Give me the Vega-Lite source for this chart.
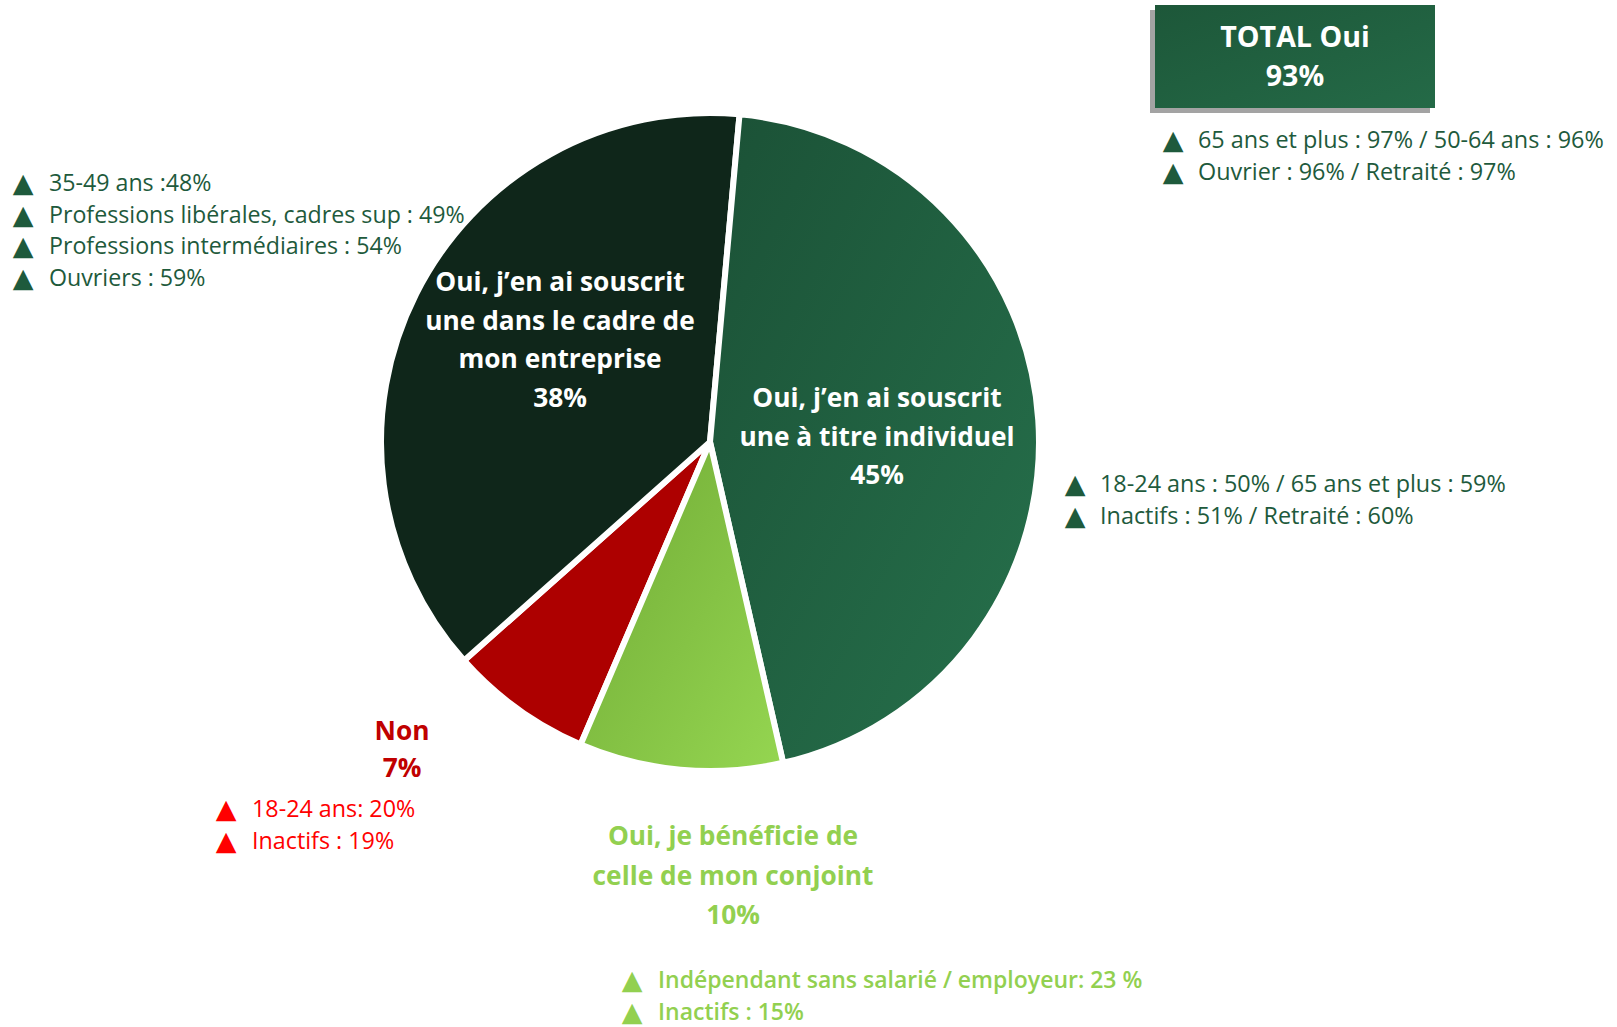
{
  "$schema": "https://vega.github.io/schema/vega-lite/v6.json",
  "width": 1420,
  "height": 884,
  "autosize": {"type": "none"},
  "padding": {"left": 0, "top": 0, "right": 197, "bottom": 143},
  "background": "white",
  "config": {"view": {"stroke": null}, "font": "Open Sans"},
  "data": {
    "values": [
      {"reponse": "Oui, j’en ai souscrit une à titre individuel", "pct": 45, "ordre": 1},
      {"reponse": "Oui, je bénéficie de celle de mon conjoint", "pct": 10, "ordre": 2},
      {"reponse": "Non", "pct": 7, "ordre": 3},
      {"reponse": "Oui, j’en ai souscrit une dans le cadre de mon entreprise", "pct": 38, "ordre": 4}
    ]
  },
  "layer": [
    {
      "mark": {"type": "arc", "outerRadius": 329, "stroke": "white", "strokeWidth": 6},
      "encoding": {
        "theta": {"field": "pct", "type": "quantitative", "stack": true, "scale": {"domain": [0, 100], "range": [0.09, 6.3732]}},
        "order": {"field": "ordre", "type": "quantitative"},
        "color": {
          "field": "reponse", "type": "nominal", "legend": null,
          "scale": {
            "domain": ["Oui, j’en ai souscrit une à titre individuel", "Oui, je bénéficie de celle de mon conjoint", "Non", "Oui, j’en ai souscrit une dans le cadre de mon entreprise"],
            "range": ["#215f40", "#82bf45", "#ad0000", "#0f261a"]
          }
        }
      }
    },
    {
      "transform": [
        {"stack": "pct", "groupby": [], "sort": [{"field": "ordre"}], "as": ["t0", "t1"]},
        {"filter": "datum.ordre == 1"}
      ],
      "mark": {"type": "arc", "outerRadius": 329, "stroke": "white", "strokeWidth": 6,
        "fill": {"gradient": "linear", "x1": 0, "y1": 0, "x2": 1, "y2": 1, "stops": [{"offset": 0, "color": "#1b5136"}, {"offset": 1, "color": "#26714c"}]}},
      "encoding": {
        "theta": {"field": "t0", "type": "quantitative", "scale": {"domain": [0, 100], "range": [0.09, 6.3732]}},
        "theta2": {"field": "t1"}
      }
    },
    {
      "transform": [
        {"stack": "pct", "groupby": [], "sort": [{"field": "ordre"}], "as": ["t0", "t1"]},
        {"filter": "datum.ordre == 2"}
      ],
      "mark": {"type": "arc", "outerRadius": 329, "stroke": "white", "strokeWidth": 6,
        "fill": {"gradient": "linear", "x1": 0, "y1": 0, "x2": 1, "y2": 1, "stops": [{"offset": 0, "color": "#70aa35"}, {"offset": 1, "color": "#95d651"}]}},
      "encoding": {
        "theta": {"field": "t0", "type": "quantitative", "scale": {"domain": [0, 100], "range": [0.09, 6.3732]}},
        "theta2": {"field": "t1"}
      }
    },
    {
      "data": {"values": [{}]},
      "layer": [
        {"mark": {"type": "rect", "x": 1150, "x2": 1430, "y": 10, "y2": 113, "color": "#a3a3a3"}, "encoding": {}},
        {"mark": {"type": "rect", "x": 1155, "x2": 1435, "y": 5, "y2": 108, "color": {"gradient": "linear", "x1": 0, "y1": 0, "x2": 1, "y2": 1, "stops": [{"offset": 0, "color": "#1d5739"}, {"offset": 1, "color": "#246a47"}]}}, "encoding": {}},
        {"mark": {"type": "text", "x": 1295, "y": 38, "align": "center", "baseline": "middle", "fontSize": 28.6, "fontWeight": "bold", "lineHeight": 39, "color": "white", "text": ["TOTAL Oui", "93%"]}, "encoding": {}},
        {"mark": {"type": "text", "x": 560, "y": 283, "align": "center", "baseline": "middle", "fontSize": 26.3, "fontWeight": "bold", "lineHeight": 38.7, "color": "white", "text": ["Oui, j’en ai souscrit", "une dans le cadre de", "mon entreprise", "38%"]}, "encoding": {}},
        {"mark": {"type": "text", "x": 877, "y": 399, "align": "center", "baseline": "middle", "fontSize": 26.3, "fontWeight": "bold", "lineHeight": 38.5, "color": "white", "text": ["Oui, j’en ai souscrit", "une à titre individuel", "45%"]}, "encoding": {}},
        {"mark": {"type": "text", "x": 402, "y": 732, "align": "center", "baseline": "middle", "fontSize": 26.3, "fontWeight": "bold", "lineHeight": 37, "color": "#c00000", "text": ["Non", "7%"]}, "encoding": {}},
        {"mark": {"type": "text", "x": 733, "y": 837, "align": "center", "baseline": "middle", "fontSize": 26.3, "fontWeight": "bold", "lineHeight": 39.5, "color": "#92d050", "text": ["Oui, je bénéficie de", "celle de mon conjoint", "10%"]}, "encoding": {}},

        {"mark": {"type": "text", "x": 23, "y": 184, "align": "center", "baseline": "middle", "fontSize": 27, "font": "DejaVu Sans", "lineHeight": 31.7, "color": "#1e5a3c", "text": ["▲", "▲", "▲", "▲"]}, "encoding": {}},
        {"mark": {"type": "text", "x": 49, "y": 184, "align": "left", "baseline": "middle", "fontSize": 23.2, "lineHeight": 31.7, "color": "#1e5a3c", "text": ["35-49 ans :48%", "Professions libérales, cadres sup : 49%", "Professions intermédiaires : 54%", "Ouvriers : 59%"]}, "encoding": {}},

        {"mark": {"type": "text", "x": 1173, "y": 141, "align": "center", "baseline": "middle", "fontSize": 27, "font": "DejaVu Sans", "lineHeight": 32, "color": "#1e5a3c", "text": ["▲", "▲"]}, "encoding": {}},
        {"mark": {"type": "text", "x": 1198, "y": 141, "align": "left", "baseline": "middle", "fontSize": 23.4, "lineHeight": 32, "color": "#1e5a3c", "text": ["65 ans et plus : 97% / 50-64 ans : 96%", "Ouvrier : 96% / Retraité : 97%"]}, "encoding": {}},

        {"mark": {"type": "text", "x": 1075, "y": 485, "align": "center", "baseline": "middle", "fontSize": 27, "font": "DejaVu Sans", "lineHeight": 32, "color": "#1e5a3c", "text": ["▲", "▲"]}, "encoding": {}},
        {"mark": {"type": "text", "x": 1100, "y": 485, "align": "left", "baseline": "middle", "fontSize": 23.4, "lineHeight": 32, "color": "#1e5a3c", "text": ["18-24 ans : 50% / 65 ans et plus : 59%", "Inactifs : 51% / Retraité : 60%"]}, "encoding": {}},

        {"mark": {"type": "text", "x": 226, "y": 810, "align": "center", "baseline": "middle", "fontSize": 27, "font": "DejaVu Sans", "lineHeight": 32, "color": "#ff0000", "text": ["▲", "▲"]}, "encoding": {}},
        {"mark": {"type": "text", "x": 252, "y": 810, "align": "left", "baseline": "middle", "fontSize": 23.3, "lineHeight": 32, "color": "#ff0000", "text": ["18-24 ans: 20%", "Inactifs : 19%"]}, "encoding": {}},

        {"mark": {"type": "text", "x": 632, "y": 981, "align": "center", "baseline": "middle", "fontSize": 27, "font": "DejaVu Sans", "lineHeight": 31.5, "color": "#92d050", "text": ["▲", "▲"]}, "encoding": {}},
        {"mark": {"type": "text", "x": 658, "y": 981, "align": "left", "baseline": "middle", "fontSize": 23, "fontWeight": 600, "lineHeight": 31.5, "color": "#92d050", "text": ["Indépendant sans salarié / employeur: 23 %", "Inactifs : 15%"]}, "encoding": {}}
      ]
    }
  ]
}
